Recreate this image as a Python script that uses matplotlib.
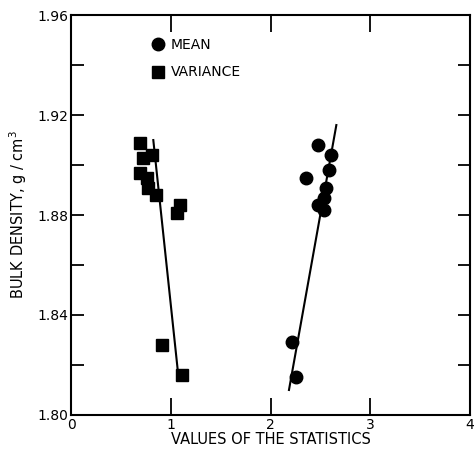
import matplotlib
matplotlib.use("Agg")
import matplotlib.pyplot as plt
from matplotlib.ticker import MultipleLocator

# Mean values (circles)
mean_x = [2.48, 2.61, 2.59, 2.36, 2.56, 2.54, 2.48, 2.54, 2.22, 2.26]
mean_y = [1.908, 1.904, 1.898, 1.895, 1.891, 1.887, 1.884, 1.882, 1.829, 1.815]

# Variance values (squares)
var_x = [0.69, 0.72, 0.81, 0.69, 0.76, 0.77, 0.85, 1.09, 1.06, 0.91, 1.11]
var_y = [1.909, 1.903, 1.904, 1.897, 1.895, 1.891, 1.888, 1.884, 1.881, 1.828, 1.816]

# Fitted lines (end points)
mean_line_x = [2.185, 2.66]
mean_line_y = [1.810, 1.916]
var_line_x = [0.825, 1.075]
var_line_y = [1.910, 1.816]

x_ticks = [0, 1, 2, 3, 4]
y_ticks = [1.80, 1.84, 1.88, 1.92, 1.96]
y_labels = ["1.80", "1.84", "1.88", "1.92", "1.96"]

plt.rcParams['font.family'] = ['DejaVu Sans']

fig = plt.figure(figsize=(4.75, 4.58), dpi=100)
ax = fig.add_axes([0.1495, 0.094, 0.840, 0.873])

ax.plot(mean_line_x, mean_line_y, color='black', lw=1.5, zorder=2)
ax.plot(var_line_x, var_line_y, color='black', lw=1.5, zorder=2)
ax.plot(mean_x, mean_y, 'o', color='black', ms=9, label='MEAN', zorder=3)
ax.plot(var_x, var_y, 's', color='black', ms=8.5, label='VARIANCE', zorder=3)

ax.set_xlim(0, 4)
ax.set_ylim(1.80, 1.96)
ax.set_xticks(x_ticks)
ax.set_yticks(y_ticks)
ax.set_yticklabels(y_labels)
ax.yaxis.set_minor_locator(MultipleLocator(0.02))

ax.tick_params(which='both', direction='in', top=True, right=True,
               labelsize=10, width=1.3)
ax.tick_params(axis='x', which='major', length=12, pad=2)
ax.tick_params(axis='y', which='both', length=9, pad=2)
for sp in ax.spines.values():
    sp.set_linewidth(1.5)

ax.set_xlabel('VALUES OF THE STATISTICS', fontsize=10.5, labelpad=0)
ax.set_ylabel('BULK DENSITY, g / cm$^3$', fontsize=10.5, labelpad=6)

ax.legend(loc='upper left', bbox_to_anchor=(0.17, 0.975), frameon=False,
          fontsize=10, handletextpad=0.4, labelspacing=1.0,
          handlelength=1.0)

fig.savefig('out.png', dpi=100)
